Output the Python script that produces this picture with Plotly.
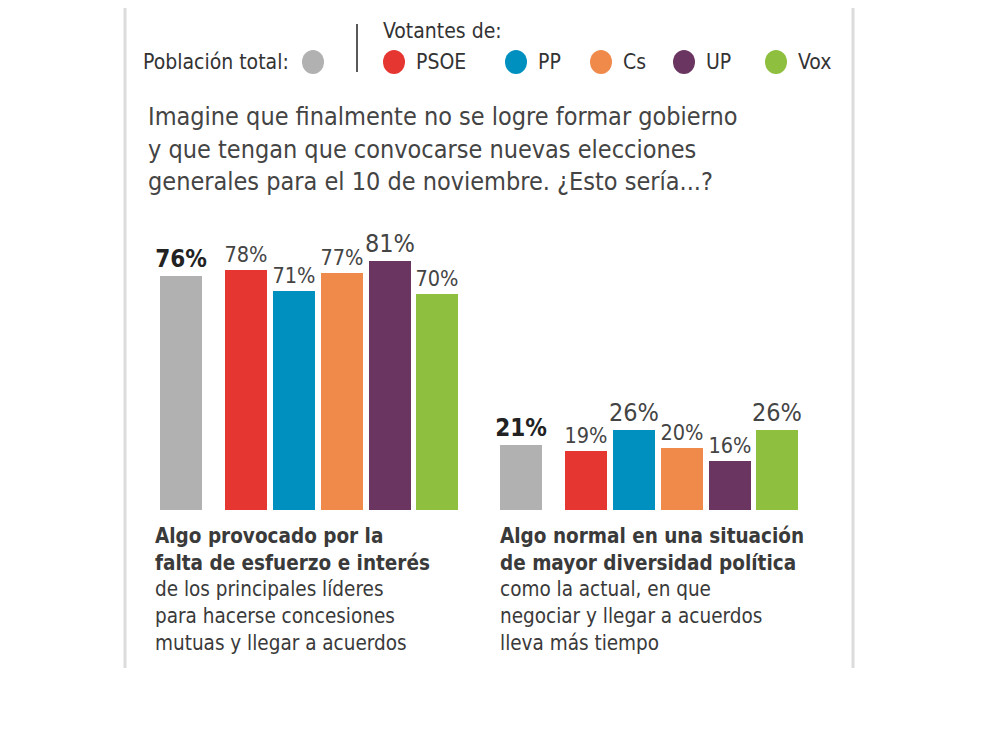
import plotly.graph_objects as go

# data
groups = ["provocado", "normal"]
series = ["Población total", "PSOE", "PP", "Cs", "UP", "Vox"]
poblacion = [76, 21]
psoe = [78, 19]
pp = [71, 26]
cs = [77, 20]
up = [81, 16]
vox = [70, 26]
colors = ["#b1b1b1", "#e53632", "#0090bf", "#f08a4a", "#6a3661", "#8fbf3e"]

W, H = 990, 742
OFF = 8  # page body margin, figure starts at (8, 8)
FONT = "Liberation Sans Narrow, DejaVu Sans Condensed, Arial Narrow, sans-serif"


def px(x):
    return (x - OFF) / W


def py(y):
    return 1 - (y - OFF) / H


# horizontal layout in pixels, the axis is pixel based
group_left = 160      # left edge of first (grey) bar
group_step = 340
bar_w = 42
slot = [0, 65, 113, 161, 209, 256]

# vertical scale: 0% at y=510 px, 3.08 px per %
base_px = 510 - OFF
per_pct = 3.08

parties = [psoe, pp, cs, up, vox]
group_max = [max(p[g] for p in parties) for g in range(len(groups))]

fig = go.Figure()
all_vals = [poblacion] + parties
for i, (name, vals) in enumerate(zip(series, all_vals)):
    xs = [group_left + g * group_step + slot[i] + bar_w / 2 for g in range(len(groups))]
    if i == 0:
        txt = [f"<b>{v}%</b>" for v in vals]
        tf = dict(family=FONT, size=24, color="#222222")
    else:
        txt = [f"{v}%" for v in vals]
        sizes = [25 if v == group_max[g] else 21.5 for g, v in enumerate(vals)]
        tf = dict(family=FONT, size=sizes, color="#444444")
    fig.add_trace(go.Bar(
        x=xs, y=vals, width=bar_w, name=name,
        marker=dict(color=colors[i], line=dict(width=0)),
        text=txt, textposition="outside", textfont=tf, constraintext="none",
        cliponaxis=False, showlegend=False, hoverinfo="skip",
    ))

fig.update_xaxes(range=[OFF, W + OFF], visible=False, fixedrange=True)
fig.update_yaxes(range=[-(H - base_px) / per_pct, base_px / per_pct],
                 visible=False, fixedrange=True)

shapes = []
# side border lines
for x in [125, 853]:
    shapes.append(dict(type="line", xref="paper", yref="paper",
                       x0=px(x), x1=px(x), y0=py(8), y1=py(668),
                       line=dict(color="#dcdcdc", width=3)))
# separator in legend
shapes.append(dict(type="line", xref="paper", yref="paper",
                   x0=px(357), x1=px(357), y0=py(24), y1=py(72),
                   line=dict(color="#222222", width=1.5)))

annotations = []
legend_circles = [(313, colors[0])]
legend_items = [("PSOE", 394, colors[1]), ("PP", 516, colors[2]), ("Cs", 601, colors[3]),
                ("UP", 684, colors[4]), ("Vox", 776, colors[5])]
for lbl, cx, col in legend_items:
    legend_circles.append((cx, col))
    annotations.append(dict(x=px(cx + 20), y=py(62), xref="paper", yref="paper",
                            text=lbl, showarrow=False, xanchor="left", yanchor="middle",
                            font=dict(family=FONT, size=21, color="#333333")))
for cx, col in legend_circles:
    shapes.append(dict(type="circle", xref="paper", yref="paper",
                       x0=px(cx - 11), x1=px(cx + 11), y0=py(50), y1=py(74),
                       fillcolor=col, line=dict(width=0)))

annotations.append(dict(x=px(141), y=py(62), xref="paper", yref="paper",
                        text="Población total:", showarrow=False, xanchor="left", yanchor="middle",
                        font=dict(family=FONT, size=21, color="#333333")))
annotations.append(dict(x=px(381), y=py(31), xref="paper", yref="paper",
                        text="Votantes de:", showarrow=False, xanchor="left", yanchor="middle",
                        font=dict(family=FONT, size=21, color="#333333")))

annotations.append(dict(
    x=px(146), y=py(100), xref="paper", yref="paper", xanchor="left", yanchor="top",
    align="left", showarrow=False,
    text="Imagine que finalmente no se logre formar gobierno<br>"
         "y que tengan que convocarse nuevas elecciones<br>"
         "generales para el 10 de noviembre. ¿Esto sería...?",
    font=dict(family=FONT, size=25, color="#444444")))

captions = [
    (153, "<b>Algo provocado por la<br>falta de esfuerzo e interés</b><br>"
          "de los principales líderes<br>para hacerse concesiones<br>mutuas y llegar a acuerdos"),
    (498, "<b>Algo normal en una situación<br>de mayor diversidad política</b><br>"
          "como la actual, en que<br>negociar y llegar a acuerdos<br>lleva más tiempo"),
]
for cx, txt in captions:
    annotations.append(dict(
        x=px(cx), y=py(522), xref="paper", yref="paper", xanchor="left", yanchor="top",
        align="left", showarrow=False, text=txt,
        font=dict(family=FONT, size=20.5, color="#3a3a3a")))

fig.update_layout(
    width=W, height=H, margin=dict(l=0, r=0, t=0, b=0),
    paper_bgcolor="white", plot_bgcolor="white",
    barmode="overlay", bargap=0,
    shapes=shapes, annotations=annotations,
    uniformtext=dict(mode=False),
)

fig.write_html("out.html")
